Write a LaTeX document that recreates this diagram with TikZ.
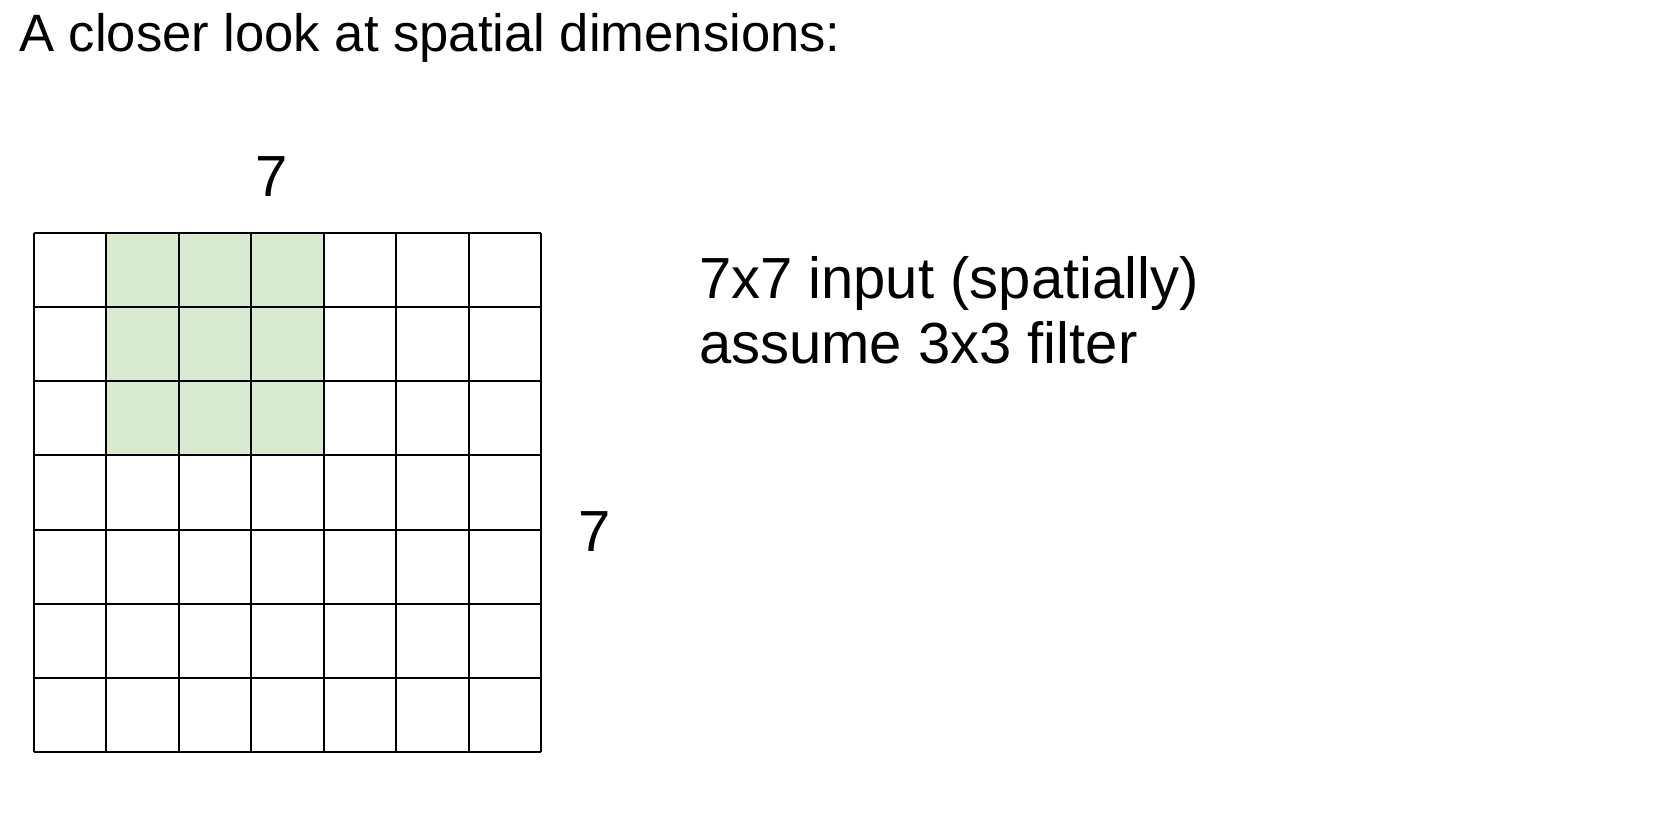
\documentclass[tikz,border=0pt]{standalone}
\usepackage{fontspec}
\setmainfont{Liberation Sans}
\definecolor{cellgreen}{HTML}{D9EAD3}
\begin{document}
\begin{tikzpicture}[x=1pt,y=-1pt,
  lbl/.style={inner sep=0pt,outer sep=0pt,font=\fontsize{58}{65}\selectfont},
  gridline/.style={line width=2pt,black}]
\useasboundingbox[fill=white] (0,0) rectangle (1660,815);
\node[inner sep=0pt,anchor=base west,font=\fontsize{52.6}{60}\selectfont] (title) at (19,51) {A closer look at spatial dimensions:};
\def\cw{72.43}\def\ch{74.14}
\fill[cellgreen] (34+\cw,233) rectangle (34+4*\cw,233+3*\ch);
\foreach \i in {0,...,7}{
  \draw[gridline] (34+\i*\cw,233) -- (34+\i*\cw,752);
  \draw[gridline] (34,233+\i*\ch) -- (541,233+\i*\ch);
}
\node[lbl,anchor=base] (top7) at (272,196) {7};
\node[lbl,anchor=base] (side7) at (595,551) {7};
\node[lbl,anchor=base west] (l1) at (699,298) {7x7 input (spatially)};
\node[lbl,anchor=base west] (l2) at (699,363) {assume 3x3 filter};
\end{tikzpicture}
\end{document}
